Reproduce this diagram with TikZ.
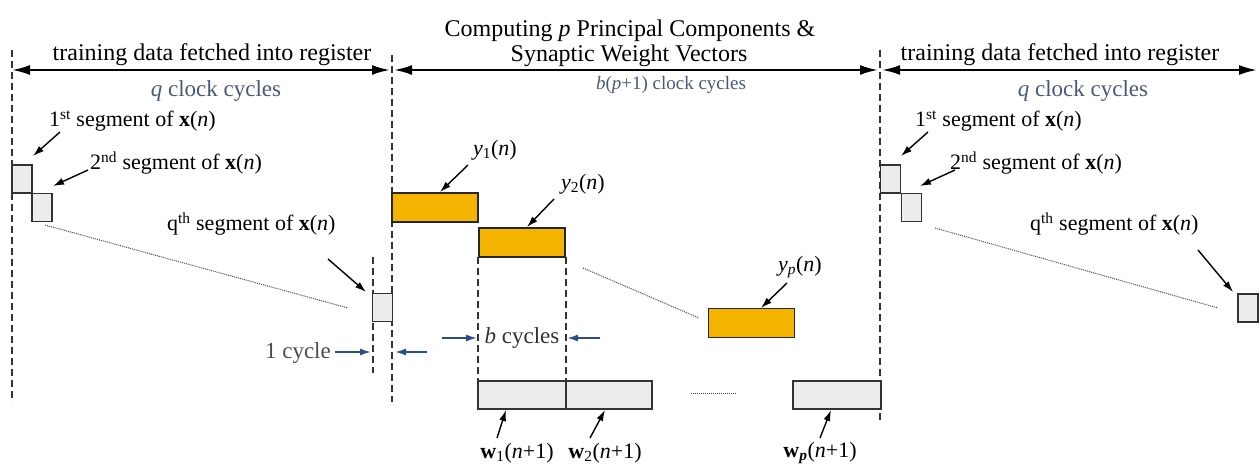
\documentclass[tikz,border=0pt]{standalone}
\usepackage{fontspec}
\setmainfont{Liberation Serif}
\usetikzlibrary{arrows.meta}
\definecolor{ybox}{HTML}{F5B400}
\definecolor{bluetxt}{HTML}{4A5878}
\definecolor{bluearr}{HTML}{2E4C8C}
\definecolor{gbox}{HTML}{EDEDED}
\tikzset{
  ttl/.style={font=\fontsize{24}{26}\selectfont, inner sep=0pt},
  lbl/.style={font=\fontsize{22}{24}\selectfont, inner sep=0pt},
  cyc/.style={font=\fontsize{23}{25}\selectfont, inner sep=0pt, text=bluetxt},
  span/.style={line width=2.2pt, {Latex[length=18pt,width=10pt]}-{Latex[length=18pt,width=10pt]}},
  vdash/.style={line width=1.3pt, dash pattern=on 7pt off 4pt, draw=black!80},
  ptr/.style={line width=1.4pt, -{Latex[length=11pt,width=7pt]}},
  bptr/.style={line width=1.6pt, draw=bluearr, -{Latex[length=11pt,width=7pt]}},
  dots/.style={line width=1pt, densely dotted, draw=black!70},
  segbox/.style={draw=black!80, line width=1.2pt, fill=gbox, minimum width=20pt, minimum height=28pt, inner sep=0pt},
  ybx/.style={draw=black!85, line width=1.2pt, fill=ybox, minimum width=86pt, minimum height=29pt, inner sep=0pt},
  wbx/.style={draw=black!80, line width=1.2pt, fill=gbox, minimum width=87pt, minimum height=28pt, inner sep=0pt},
}
\begin{document}
\begin{tikzpicture}[x=1pt,y=-1pt]
\useasboundingbox (0,0) rectangle (1260,470);

% vertical dashed lines
\coordinate (v1t) at (12,50);   \coordinate (v1b) at (12,402);
\coordinate (v2t) at (392,55);  \coordinate (v2b) at (392,402);
\coordinate (v3t) at (880,50);  \coordinate (v3b) at (880,420);
\coordinate (v4t) at (373,257); \coordinate (v4b) at (373,373);
\coordinate (v5t) at (478,257); \coordinate (v5b) at (478,381);
\coordinate (v6t) at (566,257); \coordinate (v6b) at (566,381);
\foreach \a in {1,...,6} \draw[vdash] (v\a t) -- (v\a b);

% top span arrows
\coordinate (a1l) at (12,70);  \coordinate (a1r) at (390,70);
\coordinate (a2l) at (394,70); \coordinate (a2r) at (878,70);
\coordinate (a3l) at (882,70); \coordinate (a3r) at (1257,70);
\draw[span] (a1l) -- (a1r);
\draw[span] (a2l) -- (a2r);
\draw[span] (a3l) -- (a3r);

% titles
\node[ttl] (t1) at (212,55) {training data fetched into register};
\node[cyc] (c1) at (216,91) {\textit{q} clock cycles};
\node[ttl] (t2a) at (630,31) {Computing \textit{p} Principal Components \&};
\node[ttl] (t2b) at (629,56) {Synaptic Weight Vectors};
\node[cyc, font=\fontsize{19}{21}\selectfont] (c2) at (671,85) {\textit{b}(\textit{p}+1) clock cycles};
\node[ttl] (t3) at (1060,55) {training data fetched into register};
\node[cyc] (c3) at (1083,91) {\textit{q} clock cycles};

% left segments
\node[segbox] (s1) at (22,179) {};
\node[segbox] (s2) at (42,207.5) {};
\node[segbox] (sq) at (382.5,307.5) {};
\node[lbl, anchor=west] (l1) at (49,121) {1\textsuperscript{st} segment of \textbf{x}(\textit{n})};
\node[lbl, anchor=west] (l2) at (90,163) {2\textsuperscript{nd} segment of \textbf{x}(\textit{n})};
\node[lbl, anchor=west] (lq) at (167,224) {q\textsuperscript{th} segment of \textbf{x}(\textit{n})};
\coordinate (p1s) at (60,132);  \coordinate (p1e) at (33,156);
\coordinate (p2s) at (88,170);  \coordinate (p2e) at (53,186);
\coordinate (pqs) at (328,259); \coordinate (pqe) at (366,292);
\draw[ptr] (p1s) -- (p1e);
\draw[ptr] (p2s) -- (p2e);
\draw[ptr] (pqs) -- (pqe);
\coordinate (d1s) at (45,225); \coordinate (d1e) at (348,308);
\draw[dots] (d1s) -- (d1e);

% right segments
\node[segbox] (r1) at (890.5,179) {};
\node[segbox] (r2) at (911.5,207.5) {};
\node[segbox] (rq) at (1248,308) {};
\node[lbl, anchor=west] (m1) at (915,121) {1\textsuperscript{st} segment of \textbf{x}(\textit{n})};
\node[lbl, anchor=west] (m2) at (950,163) {2\textsuperscript{nd} segment of \textbf{x}(\textit{n})};
\node[lbl, anchor=west] (mq) at (1030,224) {q\textsuperscript{th} segment of \textbf{x}(\textit{n})};
\coordinate (q1s) at (928,132);  \coordinate (q1e) at (901,156);
\coordinate (q2s) at (955,170);  \coordinate (q2e) at (920,186);
\coordinate (qqs) at (1198,250); \coordinate (qqe) at (1233,292);
\draw[ptr] (q1s) -- (q1e);
\draw[ptr] (q2s) -- (q2e);
\draw[ptr] (qqs) -- (qqe);
\coordinate (d2s) at (935,228); \coordinate (d2e) at (1218,308);
\draw[dots] (d2s) -- (d2e);

% principal components
\node[ybx] (y1) at (435,207.5) {};
\node[ybx] (y2) at (522,242.5) {};
\node[ybx] (yp) at (751.5,323) {};
\node[lbl] (ly1) at (495,150) {\textit{y}\textsubscript{1}(\textit{n})};
\node[lbl] (ly2) at (583,184) {\textit{y}\textsubscript{2}(\textit{n})};
\node[lbl] (lyp) at (800,267) {\textit{y}\textsubscript{\textit{p}}(\textit{n})};
\coordinate (y1s) at (468,165); \coordinate (y1e) at (440,192);
\coordinate (y2s) at (554,199); \coordinate (y2e) at (527,227);
\coordinate (yps) at (787,283); \coordinate (ype) at (761,308);
\draw[ptr] (y1s) -- (y1e);
\draw[ptr] (y2s) -- (y2e);
\draw[ptr] (yps) -- (ype);
\coordinate (d3s) at (583,268); \coordinate (d3e) at (699,318);
\draw[dots] (d3s) -- (d3e);

% cycle markers
\node[lbl, font=\fontsize{23}{25}\selectfont, anchor=east, text=black!70] (one) at (331,353) {1 cycle};
\coordinate (o1s) at (335,352); \coordinate (o1e) at (371,352);
\coordinate (o2s) at (427,352); \coordinate (o2e) at (395,352);
\draw[bptr] (o1s) -- (o1e);
\draw[bptr] (o2s) -- (o2e);
\node[lbl, font=\fontsize{23}{25}\selectfont, text=black!80] (bc) at (522,338) {\textit{b} cycles};
\coordinate (b1s) at (442,338); \coordinate (b1e) at (477,338);
\coordinate (b2s) at (600,338); \coordinate (b2e) at (567,338);
\draw[bptr] (b1s) -- (b1e);
\draw[bptr] (b2s) -- (b2e);

% weight vectors
\node[wbx, minimum width=88pt] (w1) at (522,395) {};
\node[wbx, minimum width=86pt] (w2) at (609,395) {};
\node[wbx, minimum width=88pt] (wp) at (837,395) {};
\coordinate (d4s) at (691,393); \coordinate (d4e) at (736,393);
\draw[dots] (d4s) -- (d4e);
\node[lbl] (lw1) at (517,453) {\textbf{w}\textsubscript{1}(\textit{n}+1)};
\node[lbl] (lw2) at (605,453) {\textbf{w}\textsubscript{2}(\textit{n}+1)};
\node[lbl] (lwp) at (820,453) {\textbf{w}\textsubscript{\textbf{\textit{p}}}(\textit{n}+1)};
\coordinate (w1s) at (497,438); \coordinate (w1e) at (506,410);
\coordinate (w2s) at (590,438); \coordinate (w2e) at (605,410);
\coordinate (wps) at (820,438); \coordinate (wpe) at (831,410);
\draw[ptr] (w1s) -- (w1e);
\draw[ptr] (w2s) -- (w2e);
\draw[ptr] (wps) -- (wpe);
\end{tikzpicture}
\end{document}
